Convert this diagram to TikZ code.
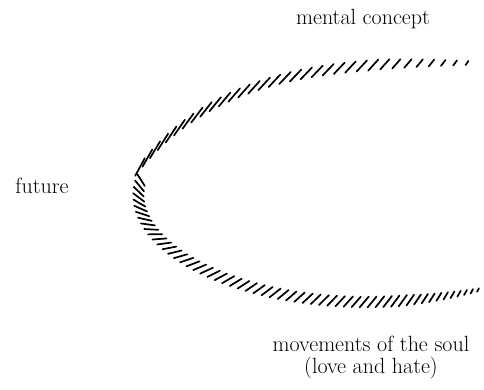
\documentclass[tikz,border=0pt]{standalone}
\tikzset{
    label text/.style={
        align=center,
        inner sep=0,
        font=\fontsize{22}{22}\selectfont,
    },
    hatch/.style={
        line width=1.7pt,
        line cap=round,
    },
}
% control points of the two arcs
\def\ua{140}\def\uA{-167}\def\ub{217.5}\def\uB{-69.5}
\def\uc{340}\def\uC{-62}\def\ud{467}\def\uD{-63}
\def\la{141}\def\lA{-180}\def\lb{117}\def\lB{-256}
\def\lc{282}\def\lC{-332}\def\ld{478}\def\lD{-290}

\begin{document}
\begin{tikzpicture}[x=1pt,y=1pt]
    \useasboundingbox (0,0) rectangle (484,-389);

    % labels
    \node[label text] (concept) at (363,-19) {mental concept};
    \node[label text] (future) at (42,-186) {future};
    \node[label text] (soul) at (371,-358) {movements of the soul\\(love and hate)};

    % upper arc
    \foreach \i in {0,...,32} {
        \pgfmathsetmacro{\t}{\i/32}
        \pgfmathsetmacro{\s}{1-\t}
        \pgfmathsetmacro{\bx}{\s^3*\ua+3*\s^2*\t*\ub+3*\s*\t^2*\uc+\t^3*\ud}
        \pgfmathsetmacro{\by}{\s^3*\uA+3*\s^2*\t*\uB+3*\s*\t^2*\uC+\t^3*\uD}
        \pgfmathsetmacro{\dx}{3*\s^2*(\ub-\ua)+6*\s*\t*(\uc-\ub)+3*\t^2*(\ud-\uc)}
        \pgfmathsetmacro{\dy}{3*\s^2*(\uB-\uA)+6*\s*\t*(\uC-\uB)+3*\t^2*(\uD-\uC)}
        \pgfmathsetmacro{\ang}{atan2(\dy,\dx)+10+45*\t}
        \pgfmathsetmacro{\len}{\t>0.75 ? 2.5+5*(1-\t)/0.25 : 10-2.5*\t/0.75}
        \draw[hatch] (\bx,\by) ++(\ang+180:\len) -- ++(\ang:2*\len);
    }

    % lower arc
    \foreach \i in {0,...,55} {
        \pgfmathsetmacro{\u}{\i/55}
        \pgfmathsetmacro{\t}{\u*(1.43-0.43*\u)}
        \pgfmathsetmacro{\s}{1-\t}
        \pgfmathsetmacro{\bx}{\s^3*\la+3*\s^2*\t*\lb+3*\s*\t^2*\lc+\t^3*\ld}
        \pgfmathsetmacro{\by}{\s^3*\lA+3*\s^2*\t*\lB+3*\s*\t^2*\lC+\t^3*\lD}
        \pgfmathsetmacro{\dx}{3*\s^2*(\lb-\la)+6*\s*\t*(\lc-\lb)+3*\t^2*(\ld-\lc)}
        \pgfmathsetmacro{\dy}{3*\s^2*(\lB-\lA)+6*\s*\t*(\lC-\lB)+3*\t^2*(\lD-\lC)}
        \pgfmathsetmacro{\ang}{atan2(\dy,\dx)+50}
        \pgfmathsetmacro{\len}{\u>0.8 ? 2+5*(1-\u)/0.2 : 7}
        \draw[hatch] (\bx,\by) ++(\ang+180:\len) -- ++(\ang:2*\len);
    }

\end{tikzpicture}
\end{document}
